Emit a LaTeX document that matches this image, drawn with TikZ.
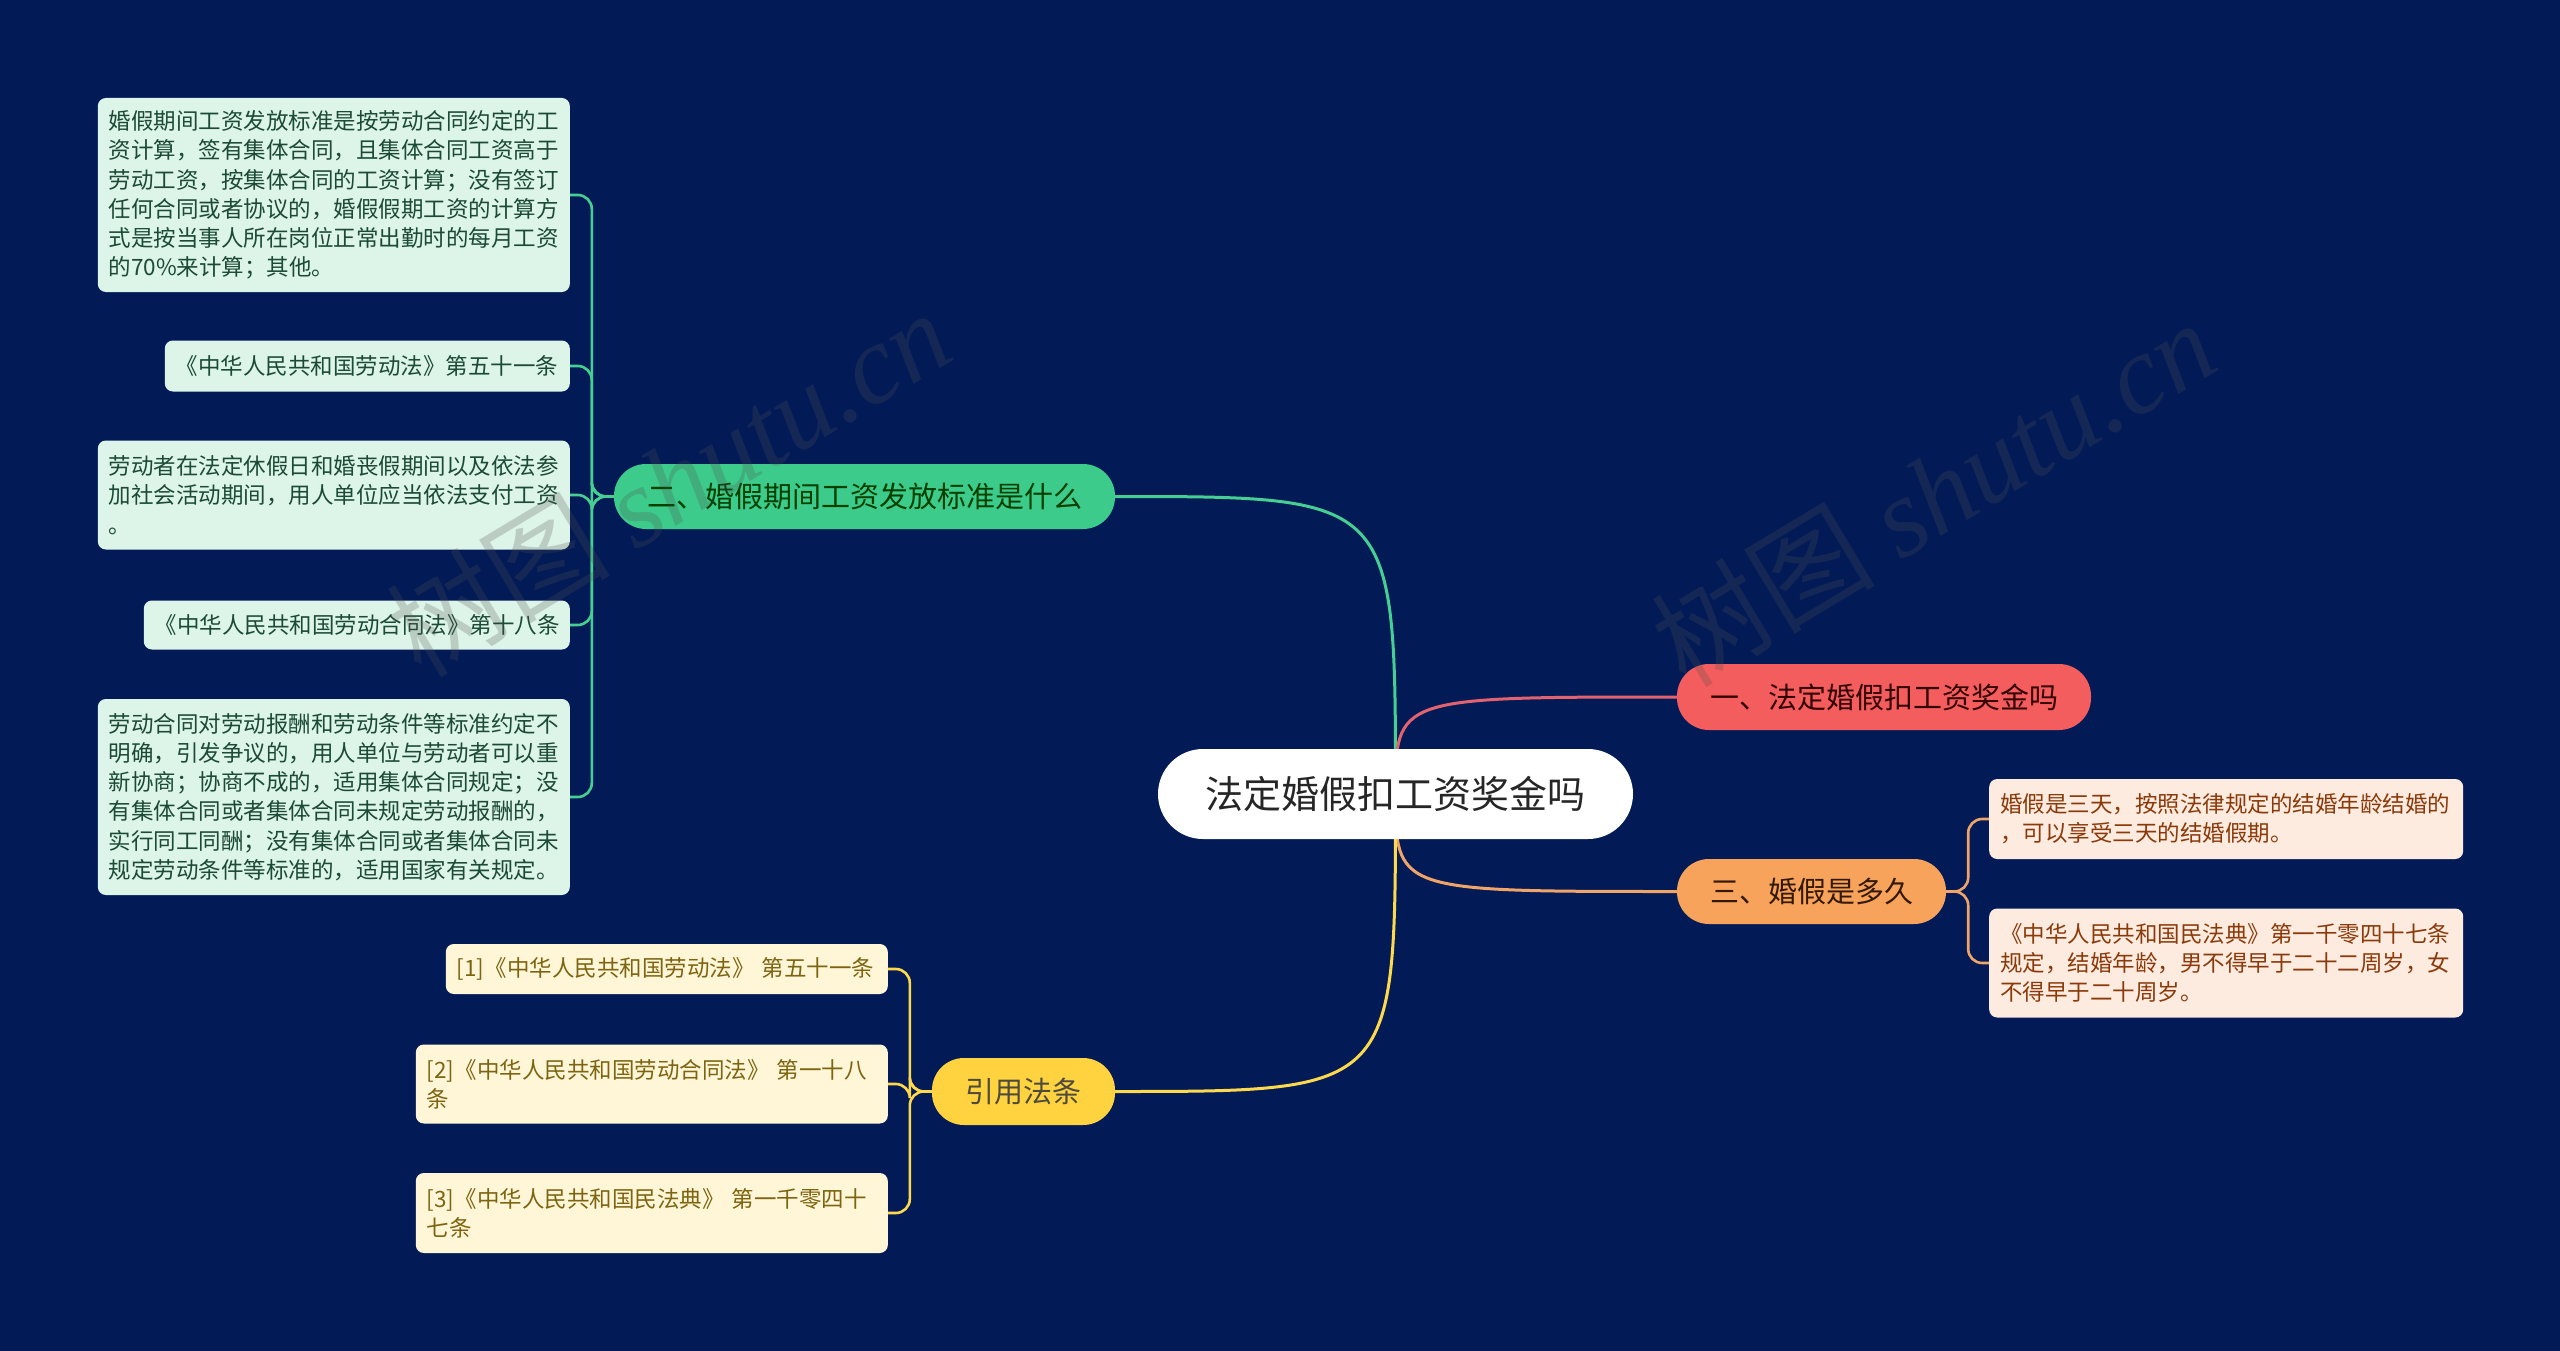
\documentclass[tikz,border=0pt]{standalone}
\usepackage{fontspec}
\setmainfont{Noto Sans CJK SC}
\newfontfamily\wmserif{Liberation Serif}
\usetikzlibrary{calc}
\definecolor{bgc}{HTML}{021B57}
\definecolor{gmain}{HTML}{3DCB8B}
\definecolor{gline}{HTML}{45CF92}
\definecolor{gleaf}{HTML}{DDF4E8}
\definecolor{gtext}{HTML}{1B4A35}
\definecolor{rmain}{HTML}{F45D5D}
\definecolor{rline}{HTML}{E2636E}
\definecolor{omain}{HTML}{F7A35C}
\definecolor{oline}{HTML}{F0A468}
\definecolor{oleaf}{HTML}{FDEBDF}
\definecolor{otext}{HTML}{8A3A0A}
\definecolor{ymain}{HTML}{FFD33F}
\definecolor{yline}{HTML}{FFD94C}
\definecolor{yleaf}{HTML}{FFF6D8}
\definecolor{ytext}{HTML}{7D6410}
\definecolor{wmc}{HTML}{505050}
\pgfdeclarelayer{back}
\pgfdeclarelayer{links}
\pgfdeclarelayer{front}
\pgfsetlayers{back,links,main,front}
\begin{document}
\begin{tikzpicture}[x=1pt,y=-1pt,
  leafbox/.style={rounded corners=8pt, inner xsep=11pt, inner ysep=0pt, align=left,
    font=\fontsize{22.5}{29.3}\selectfont},
  gleafbox/.style={leafbox, fill=gleaf, text=gtext},
  oleafbox/.style={leafbox, fill=oleaf, text=otext},
  yleafbox/.style={leafbox, fill=yleaf, text=ytext},
  pill/.style={inner sep=0pt, font=\fontsize{29}{35}\selectfont, rounded corners=32pt},
  link/.style={line width=3pt},
  brace/.style={line width=2.6pt, rounded corners=14pt},
  wm/.style={text=wmc, text opacity=0.24, rotate=31, font=\fontsize{112}{120}\selectfont}
]
\useasboundingbox (0,0) rectangle (2560,1351);
\begin{pgfonlayer}{back}
\fill[bgc] (0,0) rectangle (2560,1351);
\end{pgfonlayer}

% root
\node[fill=white, text=black!85, rounded corners=45pt, minimum width=475pt, minimum height=90pt,
  inner sep=0pt, font=\fontsize{38}{46}\selectfont] (root) at (1395.5,794) {法定婚假扣工资奖金吗};

% main branches
\node[pill, fill=rmain, text=black!80!red, minimum width=414pt, minimum height=66pt] (n1) at (1884,697) {一、法定婚假扣工资奖金吗};
\node[pill, fill=gmain, text=black!75!green, minimum width=501pt, minimum height=65pt] (n2) at (864.5,496.5) {二、婚假期间工资发放标准是什么};
\node[pill, fill=omain, text=black!80!orange, minimum width=269pt, minimum height=65pt] (n3) at (1811.5,891.5) {三、婚假是多久};
\node[pill, fill=ymain, text=black!80!yellow, minimum width=183pt, minimum height=67pt] (n4) at (1023.5,1091.5) {引用法条};

% green leaves
\node[gleafbox, text width=450pt, minimum height=194pt, anchor=east] (L1) at (570,195)
 {婚假期间工资发放标准是按劳动合同约定的工\\资计算，签有集体合同，且集体合同工资高于\\劳动工资，按集体合同的工资计算；没有签订\\任何合同或者协议的，婚假假期工资的计算方\\式是按当事人所在岗位正常出勤时的每月工资\\的70\%来计算；其他。};
\node[gleafbox, text width=383pt, minimum height=51pt, anchor=east] (L2) at (570,366)
 {《中华人民共和国劳动法》第五十一条};
\node[gleafbox, text width=450pt, minimum height=109pt, anchor=east] (L3) at (570,495)
 {劳动者在法定休假日和婚丧假期间以及依法参\\加社会活动期间，用人单位应当依法支付工资\\。};
\node[gleafbox, text width=404pt, minimum height=49pt, anchor=east] (L4) at (570,625)
 {《中华人民共和国劳动合同法》第十八条};
\node[gleafbox, text width=450pt, minimum height=196pt, anchor=east] (L5) at (570,797)
 {劳动合同对劳动报酬和劳动条件等标准约定不\\明确，引发争议的，用人单位与劳动者可以重\\新协商；协商不成的，适用集体合同规定；没\\有集体合同或者集体合同未规定劳动报酬的，\\实行同工同酬；没有集体合同或者集体合同未\\规定劳动条件等标准的，适用国家有关规定。};

% yellow leaves
\node[yleafbox, text width=420pt, minimum height=50pt, anchor=east] (Y1) at (888,969)
 {\mbox{[1]《中华人民共和国劳动法》 第五十一条}};
\node[yleafbox, text width=450pt, minimum height=79pt, anchor=east] (Y2) at (888,1084)
 {[2]《中华人民共和国劳动合同法》 第一十八\\条};
\node[yleafbox, text width=450pt, minimum height=80pt, anchor=east] (Y3) at (888,1213)
 {[3]《中华人民共和国民法典》 第一千零四十\\七条};

% orange leaves
\node[oleafbox, text width=452pt, minimum height=80pt, anchor=west] (R1) at (1989,819)
 {婚假是三天，按照法律规定的结婚年龄结婚的\\，可以享受三天的结婚假期。};
\node[oleafbox, text width=452pt, minimum height=109pt, anchor=west] (R2) at (1989,963)
 {《中华人民共和国民法典》第一千零四十七条\\规定，结婚年龄，男不得早于二十二周岁，女\\不得早于二十周岁。};

\begin{pgfonlayer}{links}
\draw[link, gline] (root.center) .. controls (root.center |- n2.east) .. (n2.east);
\draw[link, rline] (root.center) .. controls (root.center |- n1.west) .. (n1.west);
\draw[link, oline] (root.center) .. controls (root.center |- n3.west) .. (n3.west);
\draw[link, yline] (root.center) .. controls (root.center |- n4.east) .. (n4.east);
\foreach \t in {L1,L2,L3,L4,L5}
  \draw[brace, gline] (n2.west) -- ++(-22,0) |- (\t.east);
\foreach \t in {Y1,Y2,Y3}
  \draw[brace, yline] (n4.west) -- ++(-22,0) |- (\t.east);
\foreach \t in {R1,R2}
  \draw[brace, oline] (n3.east) -- ++(22,0) |- (\t.west);
\end{pgfonlayer}

\begin{pgfonlayer}{front}
\node[wm] (wm1) at (668,482) {树图 {\wmserif\itshape shutu.cn}};
\node[wm] (wm2) at (1933,492) {树图 {\wmserif\itshape shutu.cn}};
\end{pgfonlayer}
\end{tikzpicture}
\end{document}
